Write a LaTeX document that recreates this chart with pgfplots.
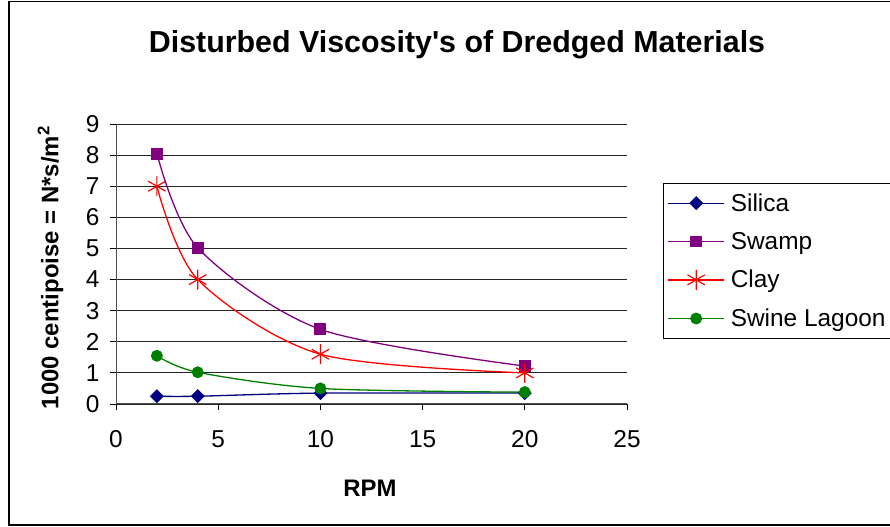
\documentclass[border=0pt]{standalone}
\usepackage{pgfplots}
\pgfplotsset{compat=1.18}
\usepackage{fontspec}
\setmainfont{Liberation Sans}
\definecolor{silica}{RGB}{0,0,128}
\definecolor{swamp}{RGB}{128,0,128}
\definecolor{clay}{RGB}{255,0,0}
\definecolor{swine}{RGB}{0,128,0}
\begin{document}
\begin{tikzpicture}
\useasboundingbox (0,0) rectangle (890bp,527bp);
\draw[line width=1.3bp] (9bp,2bp) rectangle (1000bp,525.5bp);
\node[font=\fontsize{30.5}{36}\selectfont\bfseries] at (457bp,482bp) {Disturbed Viscosity\textquotesingle s of Dredged Materials};
\begin{axis}[
  at={(116bp,123bp)}, anchor=south west,
  scale only axis, width=511bp, height=280bp,
  xmin=0, xmax=25, ymin=0, ymax=9,
  xtick={0,5,...,25}, ytick={0,1,...,9},
  axis x line*=bottom, axis y line*=left,
  axis line style={-, line width=1bp, black!70},
  tick align=outside, major tick length=6bp,
  tick style={line width=0.8bp, black},
  ymajorgrids, grid style={line width=0.9bp, black!85},
  /pgf/number format/assume math mode=true,
  tick label style={font=\fontsize{24.5}{28}\selectfont},
  xticklabel style={yshift=-17bp},
  yticklabel style={xshift=-7bp},
  xlabel={RPM},
  ylabel={1000 centipoise = N*s/m\textsuperscript{2}},
  label style={font=\fontsize{24}{28}\selectfont\bfseries},
  xlabel style={at={(axis description cs:0.497,-0.3)}, anchor=center},
  ylabel style={at={(axis description cs:-0.128,0.487)}, anchor=center},
  legend style={at={(axis description cs:1.0705,0.789)}, anchor=north west,
    draw=black, line width=1bp, font=\fontsize{24.5}{28}\selectfont,
    inner xsep=4bp, inner ysep=8bp, row sep=15.5bp, fill=white,
    nodes={inner xsep=6bp}},
  legend cell align=left,
  legend image code/.code={
    \draw[#1, mark repeat=2, mark phase=2] plot coordinates {(0bp,0bp) (28bp,0bp) (56bp,0bp)};},
  every axis plot/.append style={line width=1.3bp, smooth, tension=0.5},
  clip=false,
]
\addplot[color=silica, mark=square*, mark size=4.3bp, mark options={rotate=45, solid}] coordinates {(2,0.25) (4,0.25) (10,0.35) (20,0.35)};
\addlegendentry{Silica}
\addplot[color=swamp, mark=square*, mark size=5.3bp, mark options={solid}] coordinates {(2,8.05) (4,5.02) (10,2.4) (20,1.22)};
\addlegendentry{Swamp}
\addplot[color=clay, mark=asterisk, mark size=10bp, mark options={solid, line width=1.2bp}] coordinates {(2,7.0) (4,4.0) (10,1.6) (20,1.0)};
\addlegendentry{Clay}
\addplot[color=swine, mark=*, mark size=5.3bp, mark options={solid}] coordinates {(2,1.55) (4,1.02) (10,0.5) (20,0.38)};
\addlegendentry{Swine Lagoon}
\end{axis}
\end{tikzpicture}
\end{document}
